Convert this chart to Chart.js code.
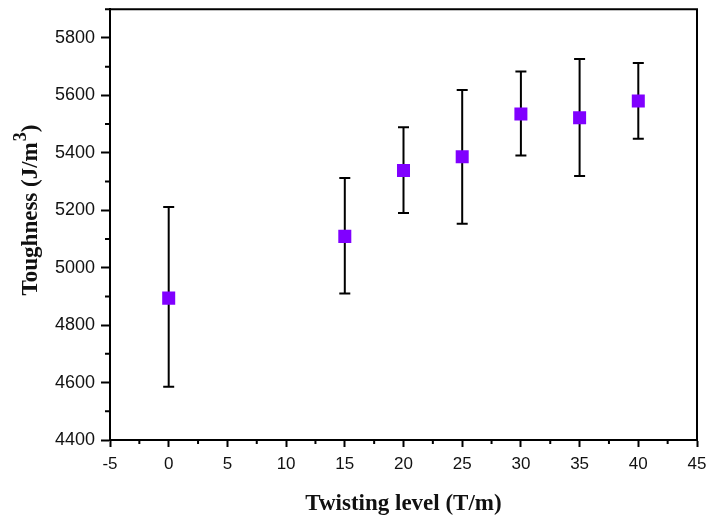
<!DOCTYPE html>
<html>
<head>
<meta charset="utf-8">
<script src="https://cdn.jsdelivr.net/npm/chart.js@4/dist/chart.umd.min.js"></script>
<style>
  html, body { margin: 0; padding: 0; background: #fff; }
  #wrap { width: 708px; height: 518px; }
</style>
</head>
<body>
<div id="wrap"><canvas id="toughChart" width="708" height="518"></canvas></div>
<script>
// twisting level (T/m) and toughness (J/m3)
var twistLevels = [0, 15, 20, 25, 30, 35, 40];
var toughness   = [4894, 5109, 5338, 5386, 5535, 5522, 5580];
var errUpper    = [5211, 5312, 5489, 5619, 5683, 5727, 5713];
var errLower    = [4585, 4910, 5190, 5153, 5391, 5319, 5449];

var xTicks = [-5, 0, 5, 10, 15, 20, 25, 30, 35, 40, 45];
var yTicks = [4400, 4600, 4800, 5000, 5200, 5400, 5600, 5800];

var points = twistLevels.map(function (x, i) { return { x: x, y: toughness[i] }; });

// error bars, minor ticks, frame and the y title (needs a superscript)
var decorPlugin = {
  id: 'decor',
  beforeDatasetsDraw: function (chart) {
    var ctx = chart.ctx, xs = chart.scales.x, ys = chart.scales.y;
    ctx.save();
    ctx.strokeStyle = '#000';
    ctx.lineWidth = 2;
    twistLevels.forEach(function (x, i) {
      var px = xs.getPixelForValue(x);
      var top = ys.getPixelForValue(errUpper[i]);
      var bot = ys.getPixelForValue(errLower[i]);
      ctx.beginPath();
      ctx.moveTo(px, top); ctx.lineTo(px, bot);
      ctx.moveTo(px - 5.5, top); ctx.lineTo(px + 5.5, top);
      ctx.moveTo(px - 5.5, bot); ctx.lineTo(px + 5.5, bot);
      ctx.stroke();
    });
    ctx.restore();
  },
  afterDraw: function (chart) {
    var ctx = chart.ctx, xs = chart.scales.x, ys = chart.scales.y, a = chart.chartArea;
    ctx.save();
    ctx.strokeStyle = '#000';
    ctx.lineWidth = 2;
    ctx.beginPath();
    ctx.moveTo(a.left, a.top); ctx.lineTo(a.right, a.top); ctx.lineTo(a.right, a.bottom);
    for (var i = 0; i < xTicks.length - 1; i++) {
      var mx = xs.getPixelForValue((xTicks[i] + xTicks[i + 1]) / 2);
      ctx.moveTo(mx, a.bottom); ctx.lineTo(mx, a.bottom + 4);
    }
    for (var j = 0; j < yTicks.length; j++) {
      var my = ys.getPixelForValue(yTicks[j] + 100);
      ctx.moveTo(a.left, my); ctx.lineTo(a.left - 5, my);
    }
    ctx.stroke();

    // y title
    var main = 'Toughness (J/m', sup = '3', close = ')';
    var big = 'bold 23px "Liberation Serif"', small = 'bold 18px "Liberation Serif"';
    ctx.font = big;
    var w1 = ctx.measureText(main).width, w3 = ctx.measureText(close).width;
    ctx.font = small;
    var w2 = ctx.measureText(sup).width + 1;
    var total = w1 + w2 + w3;
    ctx.translate(37, 210);
    ctx.rotate(-Math.PI / 2);
    ctx.fillStyle = '#111';
    ctx.textBaseline = 'alphabetic';
    ctx.textAlign = 'left';
    var sx = -total / 2;
    ctx.font = big;
    ctx.fillText(main, sx, 0);
    ctx.font = small;
    ctx.fillText(sup, sx + w1 + 1, -11);
    ctx.font = big;
    ctx.fillText(close, sx + w1 + w2, 0);
    ctx.restore();
  }
};

var ctx = document.getElementById('toughChart').getContext('2d');
new Chart(ctx, {
  type: 'scatter',
  data: {
    datasets: [{
      label: 'Toughness',
      data: points,
      pointStyle: 'rect',
      pointRadius: 9.2,
      pointHoverRadius: 9.2,
      backgroundColor: '#8000ff',
      borderColor: '#8000ff',
      borderWidth: 0
    }]
  },
  plugins: [decorPlugin],
  options: {
    responsive: false,
    animation: false,
    layout: { padding: { left: 0, right: 11, top: 7, bottom: 0 } },
    plugins: {
      legend: { display: false },
      tooltip: { enabled: false }
    },
    scales: {
      x: {
        type: 'linear',
        min: -5,
        max: 45,
        afterBuildTicks: function (s) { s.ticks = xTicks.map(function (v) { return { value: v }; }); },
        afterFit: function (s) { s.height = 78; s.paddingLeft = 0; s.paddingRight = 0; },
        border: { display: true, color: '#000', width: 2 },
        grid: { display: true, drawOnChartArea: false, drawTicks: true, tickLength: 7, tickColor: '#000', tickWidth: 2 },
        ticks: { color: '#111', font: { family: 'Liberation Sans', size: 17 }, padding: 7, maxRotation: 0,
                 callback: function (v) { return String(v); } },
        title: {
          display: true,
          text: 'Twisting level (T/m)',
          color: '#111',
          font: { family: 'Liberation Serif', size: 23, weight: 'bold' },
          padding: { top: 9, bottom: 0 }
        }
      },
      y: {
        type: 'linear',
        min: 4400,
        max: 5900,
        afterBuildTicks: function (s) { s.ticks = yTicks.map(function (v) { return { value: v }; }); },
        afterFit: function (s) { s.width = 110; s.paddingTop = 0; s.paddingBottom = 0; },
        border: { display: true, color: '#000', width: 2 },
        grid: { display: true, drawOnChartArea: false, drawTicks: true, tickLength: 9, tickColor: '#000', tickWidth: 2 },
        ticks: { color: '#111', font: { family: 'Liberation Sans', size: 18 }, padding: 6,
                 callback: function (v) { return String(v); } },
        title: { display: false }
      }
    }
  }
});
</script>
</body>
</html>
